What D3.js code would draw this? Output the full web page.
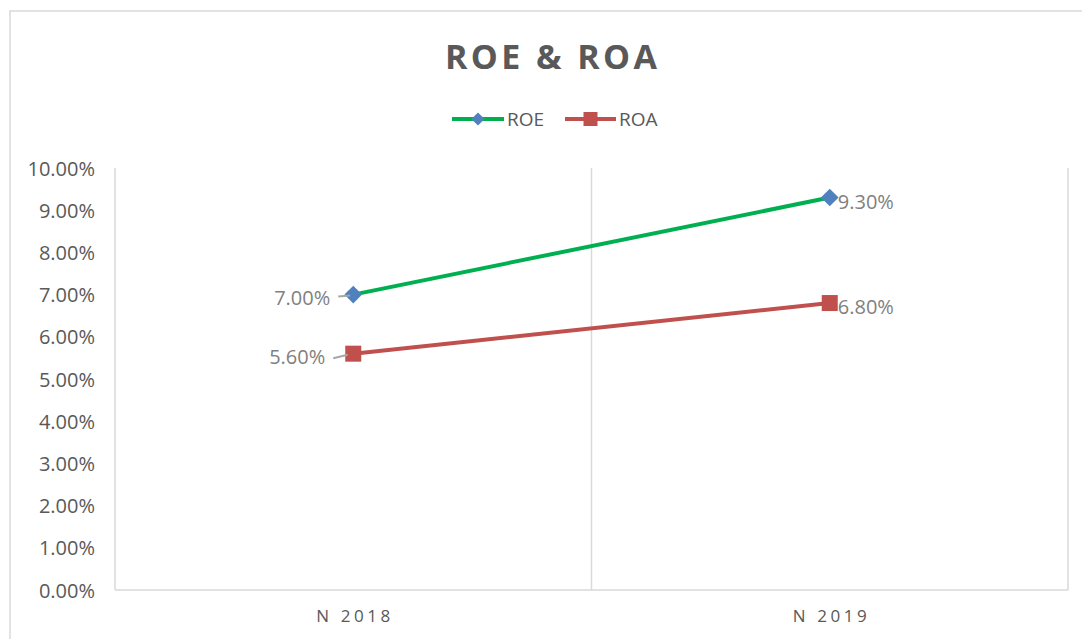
<!DOCTYPE html>
<html><head><meta charset="utf-8">
<script src="https://cdn.jsdelivr.net/npm/d3@7"></script>
<style>html,body{margin:0;padding:0;background:#fff;}svg{display:block;}</style>
</head><body>
<svg id="chart" width="1082" height="639"></svg>
<script>
const categories = ["N 2018", "N 2019"];
const roeValues = [7.00, 9.30];
const roaValues = [5.60, 6.80];
const yTicks = [0,1,2,3,4,5,6,7,8,9,10];
const seriesNames = ["ROE", "ROA"];

(function(){
const svg = d3.select("#chart");
const font = "'Open Sans', 'Noto Sans', sans-serif";

// outer border
svg.append("rect").attr("x",10).attr("y",11).attr("width",1100).attr("height",700)
  .attr("fill","#fff").attr("stroke","#d9d9d9").attr("stroke-width",1.5);

const pL = 115, pR = 1068, pT = 168, pB = 590;
const x = d3.scaleBand().domain(categories).range([pL,pR]).padding(0);
const y = d3.scaleLinear().domain([0,10]).range([pB,pT]);
const cx = c => x(c) + x.bandwidth()/2;

// vertical gridlines at category boundaries
const bounds = categories.map(c => x(c)).concat([pR]);
svg.append("g").selectAll("line").data(bounds).join("line")
  .attr("x1",d=>d).attr("x2",d=>d).attr("y1",pT).attr("y2",pB)
  .attr("stroke","#d9d9d9").attr("stroke-width",1.5);
// bottom axis line
svg.append("line").attr("x1",pL).attr("x2",pR).attr("y1",pB).attr("y2",pB)
  .attr("stroke","#d9d9d9").attr("stroke-width",1.5);

// y axis labels via d3 axis
const yAxis = d3.axisLeft(y).tickValues(yTicks).tickFormat(d => d.toFixed(2)+"%").tickSize(0).tickPadding(0);
const ya = svg.append("g").attr("transform",`translate(95,0)`).call(yAxis);
ya.select(".domain").remove();
ya.selectAll("text").attr("font-family",font).attr("font-size",20).attr("fill","#595959").attr("dy","0.35em");

// x axis labels
const xAxis = d3.axisBottom(x).tickSize(0).tickPadding(0);
const xa = svg.append("g").attr("transform",`translate(0,616)`).call(xAxis);
xa.select(".domain").remove();
xa.selectAll("text").attr("font-family",font).attr("font-size",17).attr("fill","#595959")
  .attr("dy","0.35em").attr("textLength",74).attr("lengthAdjust","spacing");

// title
svg.append("text").attr("x",551).attr("y",69).attr("text-anchor","middle")
  .attr("font-family",font).attr("font-weight","bold").attr("font-size",34).attr("fill","#595959")
  .attr("textLength",212).attr("lengthAdjust","spacing").text("ROE & ROA");

const colors = {ROE:{line:"#00b050", marker:"#4f81bd"}, ROA:{line:"#c0504d", marker:"#c0504d"}};
const data = {ROE: roeValues, ROA: roaValues};

const line = d3.line().x((d,i)=>cx(categories[i])).y(d=>y(d));
seriesNames.forEach(s => {
  svg.append("path").datum(data[s]).attr("d",line).attr("fill","none")
    .attr("stroke",colors[s].line).attr("stroke-width",4);
});

function marker(g, s, px, py){
  if (s === "ROE") {
    g.append("path").attr("d", d3.symbol().type(d3.symbolDiamond2).size(150)())
      .attr("transform",`translate(${px},${py}) scale(1.15,1.15)`).attr("fill",colors[s].marker);
  } else {
    g.append("rect").attr("x",px-8).attr("y",py-8).attr("width",16).attr("height",16).attr("fill",colors[s].marker);
  }
}
const mg = svg.append("g");
seriesNames.forEach(s => {
  data[s].forEach((v,i) => marker(mg, s, cx(categories[i]), y(v)));
});

// data labels
const lg = svg.append("g").attr("font-family",font).attr("font-size",20).attr("fill","#7f7f7f");
seriesNames.forEach(s => {
  data[s].forEach((v,i) => {
    const px = cx(categories[i]), py = y(v);
    const t = v.toFixed(2)+"%";
    if (i === 0) {
      const off = s === "ROE" ? 0 : 5;
      lg.append("line").attr("x1",px-15-off).attr("x2",px-3-off/2).attr("y1",py+2+off/2).attr("y2",py+1)
        .attr("stroke","#a6a6a6").attr("stroke-width",2);
      lg.append("text").attr("x",px-23-off).attr("y",py+3).attr("dy","0.35em").attr("text-anchor","end").text(t);
    } else {
      lg.append("text").attr("x",px+8).attr("y",py+4).attr("dy","0.35em").attr("text-anchor","start").text(t);
    }
  });
});

// legend
const leg = svg.append("g");
const legItems = [{s:"ROE", x0:452, x1:504, tx:507},{s:"ROA", x0:565, x1:616, tx:619}];
legItems.forEach(it => {
  leg.append("line").attr("x1",it.x0).attr("x2",it.x1).attr("y1",119).attr("y2",119)
    .attr("stroke",colors[it.s].line).attr("stroke-width",4);
  if (it.s === "ROE") {
    leg.append("path").attr("d", d3.symbol().type(d3.symbolDiamond2).size(110)())
      .attr("transform",`translate(${(it.x0+it.x1)/2},119)`).attr("fill",colors.ROE.marker);
  } else {
    leg.append("rect").attr("x",(it.x0+it.x1)/2-7).attr("y",112).attr("width",14).attr("height",14).attr("fill",colors.ROA.marker);
  }
  leg.append("text").attr("x",it.tx).attr("y",119).attr("dy","0.35em")
    .attr("font-family",font).attr("font-size",19).attr("fill","#595959").text(it.s);
});
})();
</script>
</body></html>
